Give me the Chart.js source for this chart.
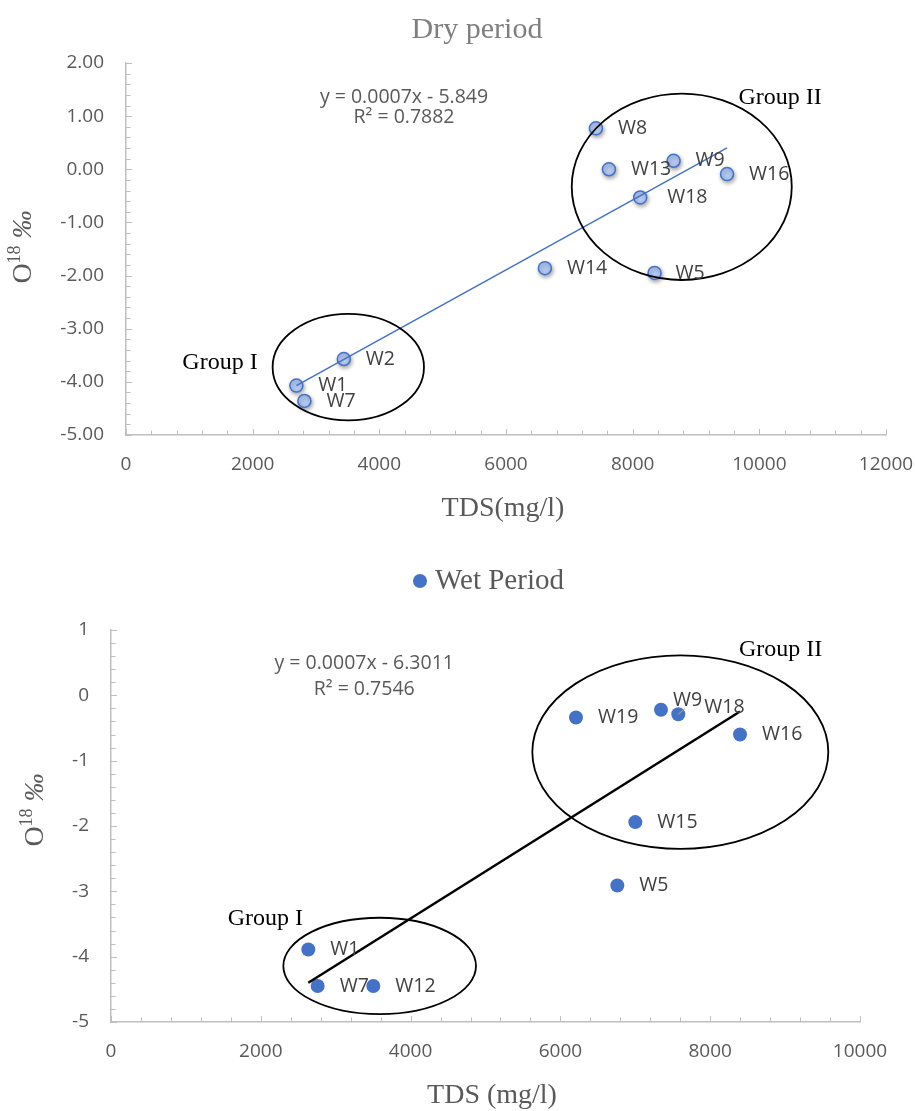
<!DOCTYPE html>
<html>
<head>
<meta charset="utf-8">
<script src="https://cdn.jsdelivr.net/npm/chart.js@4.4.0/dist/chart.umd.min.js"></script>
<style>
  body{margin:0;background:#fff;}
  canvas{display:block;}
</style>
</head>
<body>
<canvas id="dry" width="915" height="545"></canvas>
<canvas id="wet" width="915" height="566"></canvas>
<script>
const dryWells = ["W8","W13","W9","W16","W18","W14","W5","W2","W1","W7"];
const dryTDS   = [7420,7625,8646,9490,8119,6614,8346,3439,2690,2817];
const dryO18   = [0.77,0.00,0.16,-0.09,-0.53,-1.86,-1.95,-3.57,-4.07,-4.36];
const dryXTicks = [0,2000,4000,6000,8000,10000,12000];
const dryYTicks = [-5,-4,-3,-2,-1,0,1,2];
const dryTrendText = ["y = 0.0007x - 5.849","R² = 0.7882"];

const wetWells = ["W19","W9","W18","W16","W15","W5","W1","W7","W12"];
const wetTDS   = [6208,7343,7574,8398,7000,6760,2634,2759,3502];
const wetO18   = [-0.34,-0.22,-0.29,-0.60,-1.94,-2.91,-3.89,-4.45,-4.45];
const wetXTicks = [0,2000,4000,6000,8000,10000];
const wetYTicks = [-5,-4,-3,-2,-1,0,1];
const wetTrendText = ["y = 0.0007x - 6.3011","R² = 0.7546"];

const SANS = "'Open Sans', sans-serif";
const SERIF = "'Liberation Serif', 'Times New Roman', serif";

// layout of the extra drawing (pixels / data units), kept apart from the data
const dryLayout = {
  area:{left:126,right:886,top:63,bottom:435,w:915,h:545},
  groups:[
    {text:"Group I", cx:3510, cy:-3.724, rx:1195, ry:1.002, lx:1484, ly:-3.633},
    {text:"Group II", cx:8775, cy:-0.329, rx:1737, ry:1.754, lx:10327, ly:1.338}
  ],
  trendPos:{x:4390, y:[1.357,0.981]},
  labelShift:{W18:{dx:27,dy:0}, W5:{dx:21,dy:1}},
  xTitle:{text:"TDS(mg/l)", x:503, y:509},
  yTitle:{x:24, y:247},
  title:{text:"Dry period", x:477, y:30},
  lineColor:"#4472c4", lineWidth:1.5
};
const wetLayout = {
  area:{left:111,right:860,top:85,bottom:477,w:915,h:566},
  groups:[
    {text:"Group I", cx:3587, cy:-4.142, rx:1286, ry:0.738, lx:2060, ly:-3.415},
    {text:"Group II", cx:7601, cy:-0.868, rx:1976, ry:1.481, lx:8939, ly:0.704}
  ],
  trendPos:{x:3381, y:[0.485,0.092]},
  labelShift:{W9:{dx:12,dy:-9}, W18:{dx:26,dy:-7,lead:true}},
  xTitle:{text:"TDS (mg/l)", x:492, y:551},
  yTitle:{x:36, y:265},
  legend:{text:"Wet Period", x:420, y:36},
  lineColor:"#000000", lineWidth:2.5
};

function fitLine(xs, ys){
  const n = xs.length;
  const mx = xs.reduce((s,v)=>s+v,0)/n;
  const my = ys.reduce((s,v)=>s+v,0)/n;
  let sxy = 0, sxx = 0;
  for(let i=0;i<n;i++){ sxy += (xs[i]-mx)*(ys[i]-my); sxx += (xs[i]-mx)*(xs[i]-mx); }
  const b = sxy/sxx, a = my - b*mx;
  const x0 = Math.min(...xs), x1 = Math.max(...xs);
  return [{x:x0,y:a+b*x0},{x:x1,y:a+b*x1}];
}

function innerTicks(chart){
  const {ctx, scales:{x, y}} = chart;
  ctx.save();
  ctx.strokeStyle = "#bfbfbf";
  ctx.lineWidth = 1;
  const xs = x.options.ticks.stepSize, ys = y.options.ticks.stepSize;
  for(let i=0;;i++){
    const v = x.min + i*xs/5;
    if(v > x.max + 1e-6) break;
    const px = Math.round(x.getPixelForValue(v)) + 0.5;
    const len = i%5===0 ? 6 : 4.5;
    ctx.beginPath(); ctx.moveTo(px, y.bottom); ctx.lineTo(px, y.bottom - len); ctx.stroke();
  }
  for(let i=0;;i++){
    const v = y.min + i*ys/5;
    if(v > y.max + 1e-6) break;
    const py = Math.round(y.getPixelForValue(v)) + 0.5;
    const len = i%5===0 ? 6 : 4.5;
    ctx.beginPath(); ctx.moveTo(x.left, py); ctx.lineTo(x.left + len, py); ctx.stroke();
  }
  ctx.restore();
}

function drawYTitle(ctx, cx, cy){
  ctx.save();
  ctx.translate(cx, cy);
  ctx.rotate(-Math.PI/2);
  ctx.fillStyle = "#595959";
  ctx.textBaseline = "middle";
  ctx.textAlign = "left";
  const f1 = "28px " + SERIF, f2 = "18px " + SERIF, f3 = "italic 28px " + SERIF;
  ctx.font = f1; const w1 = ctx.measureText("O").width;
  ctx.font = f2; const w2 = ctx.measureText("18").width;
  ctx.font = f3; const w3 = ctx.measureText(" ‰").width;
  let x0 = -(w1+w2+w3)/2;
  ctx.font = f1; ctx.fillText("O", x0, 0); x0 += w1;
  ctx.font = f2; ctx.fillText("18", x0, -9); x0 += w2;
  ctx.font = f3; ctx.fillText(" ‰", x0, 0);
  ctx.restore();
}

function makeDeco(lay, wells, trendText, shadow){
  return {
    id:"deco",
    beforeDatasetDraw(chart, args){
      if(shadow && args.index===1){
        const ctx = chart.ctx;
        ctx.save();
        ctx.shadowColor = "rgba(0,0,0,0.35)";
        ctx.shadowBlur = 4;
        ctx.shadowOffsetX = 1;
        ctx.shadowOffsetY = 2;
      }
    },
    afterDatasetDraw(chart, args){
      if(shadow && args.index===1) chart.ctx.restore();
    },
    afterDatasetsDraw(chart){
      const {ctx, scales:{x, y}} = chart;
      // group ellipses
      ctx.save();
      ctx.strokeStyle = "#000";
      ctx.lineWidth = 1.8;
      lay.groups.forEach(g=>{
        const px = x.getPixelForValue(g.cx), py = y.getPixelForValue(g.cy);
        const rx = Math.abs(x.getPixelForValue(g.cx + g.rx) - px);
        const ry = Math.abs(y.getPixelForValue(g.cy + g.ry) - py);
        ctx.beginPath(); ctx.ellipse(px, py, rx, ry, 0, 0, Math.PI*2); ctx.stroke();
      });
      ctx.fillStyle = "#000";
      ctx.font = "24px " + SERIF;
      ctx.textAlign = "center";
      ctx.textBaseline = "middle";
      lay.groups.forEach(g=>{
        ctx.fillText(g.text, x.getPixelForValue(g.lx), y.getPixelForValue(g.ly));
      });
      // well labels
      const meta = chart.getDatasetMeta(1);
      ctx.font = "19.5px " + SANS;
      ctx.fillStyle = "#404040";
      ctx.textAlign = "left";
      meta.data.forEach((pt, i)=>{
        const s = lay.labelShift[wells[i]] || {dx:22, dy:0};
        if(s.lead){
          ctx.save();
          ctx.strokeStyle = "#a6a6a6"; ctx.lineWidth = 1;
          ctx.beginPath(); ctx.moveTo(pt.x, pt.y); ctx.lineTo(pt.x + 7, pt.y - 6); ctx.stroke();
          ctx.restore();
        }
        ctx.fillText(wells[i], pt.x + s.dx, pt.y + s.dy);
      });
      // trend equation
      ctx.fillStyle = "#595959";
      ctx.font = "19.5px " + SANS;
      ctx.textAlign = "center";
      trendText.forEach((t, i)=>{
        ctx.fillText(t, x.getPixelForValue(lay.trendPos.x), y.getPixelForValue(lay.trendPos.y[i]));
      });
      ctx.restore();
    },
    afterDraw(chart){
      const ctx = chart.ctx;
      innerTicks(chart);
      ctx.save();
      ctx.textBaseline = "middle";
      ctx.textAlign = "center";
      ctx.fillStyle = "#595959";
      ctx.font = "28px " + SERIF;
      ctx.fillText(lay.xTitle.text, lay.xTitle.x, lay.xTitle.y);
      if(lay.title){
        ctx.fillStyle = "#7f7f7f";
        ctx.font = "30px " + SERIF;
        ctx.fillText(lay.title.text, lay.title.x, lay.title.y);
      }
      if(lay.legend){
        ctx.fillStyle = "#4472c4";
        ctx.beginPath(); ctx.arc(lay.legend.x, lay.legend.y, 7, 0, Math.PI*2); ctx.fill();
        ctx.fillStyle = "#595959";
        ctx.font = "29px " + SERIF;
        ctx.textAlign = "left";
        ctx.fillText(lay.legend.text, lay.legend.x + 15, lay.legend.y);
      }
      ctx.restore();
      drawYTitle(ctx, lay.yTitle.x, lay.yTitle.y);
    }
  };
}

function makeChart(id, lay, wells, tds, o18, xTicks, yTicks, trendText, yFmt, pointStyle){
  const a = lay.area;
  const points = tds.map((v, i)=>({x:v, y:o18[i]}));
  return new Chart(document.getElementById(id), {
    type:"scatter",
    data:{
      datasets:[
        {
          label:"trend",
          data:fitLine(tds, o18),
          showLine:true,
          borderColor:lay.lineColor,
          borderWidth:lay.lineWidth,
          pointRadius:0,
          order:0
        },
        Object.assign({label:"points", data:points, order:1}, pointStyle)
      ]
    },
    options:{
      responsive:false,
      animation:false,
      layout:{padding:{left:0, right:a.w - a.right, top:a.top, bottom:0}},
      plugins:{legend:{display:false}, tooltip:{enabled:false}, title:{display:false}},
      scales:{
        x:{
          type:"linear",
          min:xTicks[0], max:xTicks[xTicks.length-1],
          afterFit:s=>{ s.height = a.h - a.bottom; s.paddingLeft = 0; s.paddingRight = 0; },
          afterBuildTicks:s=>{ s.ticks = xTicks.map(v=>({value:v})); },
          grid:{drawOnChartArea:false, drawTicks:false},
          border:{color:"#bfbfbf", width:1.5},
          ticks:{stepSize:xTicks[1]-xTicks[0], padding:18, color:"#595959", font:{family:SANS, size:19}, maxRotation:0, autoSkip:false, callback:v=>String(v)}
        },
        y:{
          type:"linear",
          min:yTicks[0], max:yTicks[yTicks.length-1],
          afterFit:s=>{ s.width = a.left; s.paddingTop = 0; s.paddingBottom = 0; },
          afterBuildTicks:s=>{ s.ticks = yTicks.map(v=>({value:v})); },
          grid:{drawOnChartArea:false, drawTicks:false},
          border:{color:"#bfbfbf", width:1.5},
          ticks:{stepSize:yTicks[1]-yTicks[0], padding:22, color:"#595959", font:{family:SANS, size:19}, callback:yFmt, autoSkip:false}
        }
      }
    },
    plugins:[makeDeco(lay, wells, trendText, pointStyle.shadow)]
  });
}

makeChart("dry", dryLayout, dryWells, dryTDS, dryO18, dryXTicks, dryYTicks, dryTrendText,
  v=>Number(v).toFixed(2),
  {pointRadius:6.5, backgroundColor:"#b3c8f3", borderColor:"#4472c4", borderWidth:1.5, shadow:true});

makeChart("wet", wetLayout, wetWells, wetTDS, wetO18, wetXTicks, wetYTicks, wetTrendText,
  v=>String(v),
  {pointRadius:7, backgroundColor:"#4472c4", borderColor:"#4472c4", borderWidth:0, shadow:false});
</script>
</body>
</html>
